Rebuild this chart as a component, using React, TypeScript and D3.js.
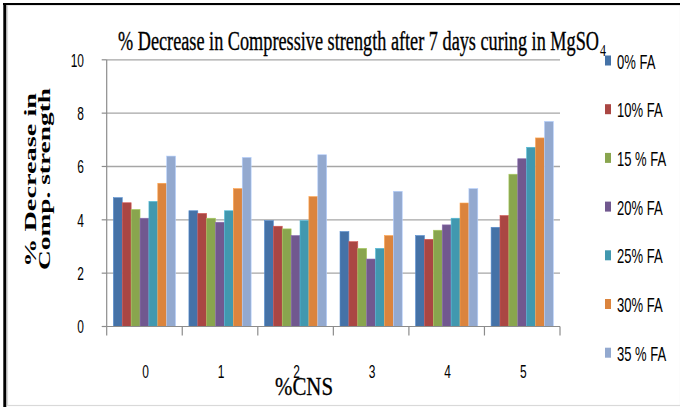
import React from "react";
import * as d3 from "d3";

// % CNS replacement levels on the x axis
const categories = ["0", "1", "2", "3", "4", "5"];

// Fly-ash series names as shown in the legend
const seriesNames = ["0% FA", "10% FA", "15 % FA", "20% FA", "25% FA", "30% FA", "35 % FA"];

// % decrease in compressive strength, one array per fly-ash level
const fa0 = [4.83, 4.34, 3.97, 3.56, 3.41, 3.72];
const fa10 = [4.64, 4.24, 3.76, 3.18, 3.27, 4.16];
const fa15 = [4.39, 4.06, 3.66, 2.93, 3.61, 5.71];
const fa20 = [4.06, 3.91, 3.41, 2.53, 3.81, 6.29];
const fa25 = [4.69, 4.34, 3.97, 2.93, 4.06, 6.72];
const fa30 = [5.37, 5.17, 4.87, 3.41, 4.63, 7.07];
const fa35 = [6.39, 6.34, 6.44, 5.07, 5.17, 7.69];

const seriesValues = [fa0, fa10, fa15, fa20, fa25, fa30, fa35];

const yTicks = [0, 2, 4, 6, 8, 10];

const colors = ["#4572A7", "#AA4643", "#89A54E", "#71588F", "#4198AF", "#DB843D", "#93A9CF"];

const W = 680;
const H = 407;
const plot = { left: 106.7, right: 560, top: 59.8, bottom: 326.5 };

const SANS = "'Liberation Sans', Arial, sans-serif";
const SERIF = "'Liberation Serif', 'Times New Roman', serif";
const NARROW = 0.63;

export default function App() {
  const x = d3.scaleBand<string>().domain(categories).range([plot.left, plot.right]).padding(0);
  const step = x.bandwidth();
  const gap = (step / 8.5) * 0.75;
  const xs = d3
    .scaleBand<string>()
    .domain(seriesNames)
    .range([gap, step - gap])
    .padding(0);
  const y = d3.scaleLinear().domain([0, 10]).range([plot.bottom, plot.top]);

  const gridColor = "#a6a6a6";
  const axisColor = "#8c8c8c";

  return (
    <svg
      width={W}
      height={H}
      viewBox={`0 0 ${W} ${H}`}
      style={{ position: "absolute", left: 0, top: 0, background: "#fff" }}
    >
      {/* outer frame */}
      <rect x={0} y={0} width={W} height={H} fill="#fff" />
      <rect x={7.5} y={5} width={W - 7} height={400.5} fill="none" stroke="#d9d9d9" strokeWidth={1.2} />
      <line x1={3} y1={4} x2={W} y2={4} stroke="#000" strokeWidth={2.2} />
      <line x1={4.8} y1={3} x2={4.8} y2={H} stroke="#000" strokeWidth={3} />

      {/* title */}
      <text
        x={118}
        y={50}
        fontFamily={SERIF}
        fontSize={27}
        fill="#000"
        stroke="#000"
        strokeWidth={0.35}
        textLength={481}
        lengthAdjust="spacingAndGlyphs"
      >
        % Decrease in Compressive strength after 7 days curing in MgSO
      </text>
      <text
        x={600}
        y={56}
        fontFamily={SERIF}
        fontSize={17}
        fill="#000"
        textLength={6}
        lengthAdjust="spacingAndGlyphs"
      >
        4
      </text>

      {/* gridlines */}
      {yTicks
        .filter((t) => t > 0)
        .map((t) => (
          <line key={`g${t}`} x1={plot.left} x2={plot.right} y1={y(t)} y2={y(t)} stroke={gridColor} strokeWidth={1.3} />
        ))}

      {/* bars */}
      {seriesValues.map((vals, si) => (
        <g key={seriesNames[si]} fill={colors[si]}>
          {vals.map((v, ci) => (
            <rect
              key={ci}
              x={(x(categories[ci]) ?? 0) + (xs(seriesNames[si]) ?? 0)}
              y={y(v)}
              width={xs.bandwidth()}
              height={y(0) - y(v)}
              stroke={d3.color(colors[si])!.brighter(0.6).formatHex()}
              strokeWidth={0.6}
            />
          ))}
        </g>
      ))}

      {/* y axis */}
      <line x1={plot.left} x2={plot.left} y1={plot.top} y2={plot.bottom} stroke={axisColor} strokeWidth={1.2} />
      {yTicks.map((t) => (
        <g key={`yt${t}`}>
          <line x1={plot.left - 5} x2={plot.left} y1={y(t)} y2={y(t)} stroke={axisColor} strokeWidth={1.2} />
          <text
            transform={`translate(84,${y(t) + 6.8}) scale(${NARROW},1)`}
            textAnchor="end"
            fontFamily={SANS}
            fontSize={19}
            fill="#000"
          >
            {t}
          </text>
        </g>
      ))}

      {/* x axis */}
      <line x1={plot.left} x2={plot.right} y1={plot.bottom} y2={plot.bottom} stroke={axisColor} strokeWidth={1.2} />
      {[...categories.map((c) => x(c) ?? 0), plot.right].map((px, i) => (
        <line key={`xt${i}`} x1={px} x2={px} y1={plot.bottom} y2={plot.bottom + 9} stroke={axisColor} strokeWidth={1.2} />
      ))}
      {categories.map((c) => (
        <text
          key={`xl${c}`}
          transform={`translate(${(x(c) ?? 0) + step / 2 + 1},378) scale(${NARROW},1)`}
          textAnchor="middle"
          fontFamily={SANS}
          fontSize={19}
          fill="#000"
        >
          {c}
        </text>
      ))}

      {/* axis titles */}
      <text
        x={275}
        y={395}
        fontFamily={SERIF}
        fontSize={25}
        fill="#000"
        stroke="#000"
        strokeWidth={0.3}
        textLength={58}
        lengthAdjust="spacingAndGlyphs"
      >
        %CNS
      </text>
      <g transform="rotate(-90)" fontFamily={SERIF} fontWeight="bold" fontSize={16} fill="#000">
        <text x={-180} y={36} textAnchor="middle" textLength={174} lengthAdjust="spacingAndGlyphs">
          % Decrease in
        </text>
        <text x={-179} y={50} textAnchor="middle" textLength={182} lengthAdjust="spacingAndGlyphs">
          Comp. strength
        </text>
      </g>

      {/* legend */}
      {seriesNames.map((name, i) => {
        const cy = 61 + i * 48.7;
        return (
          <g key={`lg${i}`}>
            <rect x={605} y={cy - 5.5} width={6} height={10} fill={colors[i]} />
            <text
              transform={`translate(617,${cy + 7.5}) scale(0.62,1)`}
              fontFamily={SANS}
              fontSize={21}
              fill="#000"
            >
              {name}
            </text>
          </g>
        );
      })}
    </svg>
  );
}
